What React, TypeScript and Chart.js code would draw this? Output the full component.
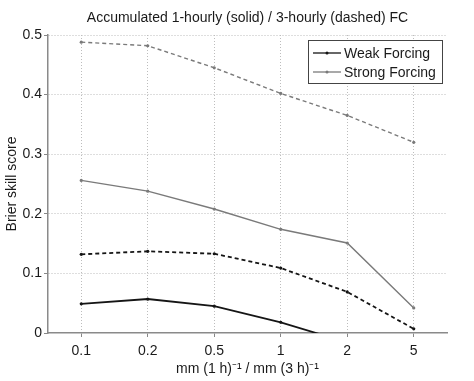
import React, { useEffect, useRef } from "react";
import { Chart, registerables } from "chart.js";

Chart.register(...registerables);

const categories = ["0.1", "0.2", "0.5", "1", "2", "5"];
const weakSolid = [0.049, 0.057, 0.045, 0.018, -0.016, -0.07];
const weakDashed = [0.132, 0.137, 0.133, 0.109, 0.069, 0.007];
const strongSolid = [0.256, 0.238, 0.208, 0.174, 0.151, 0.042];
const strongDashed = [0.488, 0.482, 0.445, 0.402, 0.365, 0.32];
const yTicks = [0, 0.1, 0.2, 0.3, 0.4, 0.5];
const legendLabels = ["Weak Forcing", "Strong Forcing"];
const titleText = "Accumulated 1-hourly (solid) / 3-hourly (dashed) FC";
const yTitle = "Brier skill score";
const xTitle = "mm (1 h)⁻¹ / mm (3 h)⁻¹";

const WEAK = "#151515";
const STRONG = "#7a7a7a";
const FONT = "Liberation Sans, Arial, sans-serif";

const textPlugin = {
  id: "textPlugin",
  afterDraw(chart: any) {
    const ctx = chart.ctx;
    const area = chart.chartArea;
    ctx.save();
    ctx.fillStyle = "#1a1a1a";
    ctx.font = `14px ${FONT}`;
    ctx.textAlign = "center";
    ctx.textBaseline = "middle";
    ctx.fillText(titleText, (area.left + area.right) / 2, 18);
    ctx.fillText(xTitle, (area.left + area.right) / 2, 369);
    ctx.save();
    ctx.translate(12, (area.top + area.bottom) / 2);
    ctx.rotate(-Math.PI / 2);
    ctx.fillText(yTitle, 0, 0);
    ctx.restore();

    // legend box
    const bx = 308, by = 40, bw = 134, bh = 43;
    ctx.fillStyle = "#ffffff";
    ctx.fillRect(bx, by, bw, bh);
    ctx.strokeStyle = "#444";
    ctx.lineWidth = 1;
    ctx.strokeRect(bx + 0.5, by + 0.5, bw, bh);
    const colors = [WEAK, STRONG];
    const rows = [53, 72];
    legendLabels.forEach((lab, i) => {
      const y = rows[i];
      ctx.strokeStyle = colors[i];
      ctx.lineWidth = 1.3;
      ctx.beginPath();
      ctx.moveTo(313, y);
      ctx.lineTo(341, y);
      ctx.stroke();
      ctx.fillStyle = colors[i];
      ctx.beginPath();
      ctx.arc(327, y, 1.5, 0, Math.PI * 2);
      ctx.fill();
      ctx.fillStyle = "#1a1a1a";
      ctx.textAlign = "left";
      ctx.fillText(lab, 344, y + 1);
    });
    ctx.restore();
  },
};

export default function App() {
  const ref = useRef<HTMLCanvasElement>(null);
  useEffect(() => {
    document.body.style.margin = "0";
    if (!ref.current) return;
    const mk = (label: string, data: number[], color: string, dash: number[], width: number) => ({
      label,
      data,
      borderColor: color,
      backgroundColor: color,
      borderWidth: width,
      borderDash: dash,
      pointRadius: 1.6,
      pointBorderWidth: 0,
      pointBackgroundColor: color,
      tension: 0,
      fill: false,
    });
    const chart = new Chart(ref.current, {
      type: "line",
      data: {
        labels: categories,
        datasets: [
          mk("Strong dashed", strongDashed, STRONG, [4, 3], 1.4),
          mk("Strong solid", strongSolid, STRONG, [], 1.4),
          mk("Weak dashed", weakDashed, WEAK, [4, 3], 1.8),
          mk("Weak solid", weakSolid, WEAK, [], 1.8),
        ],
      },
      options: {
        responsive: false,
        animation: false,
        layout: { padding: { top: 35, right: 27, left: 0, bottom: 0 } },
        plugins: { legend: { display: false }, title: { display: false }, tooltip: { enabled: false } },
        scales: {
          x: {
            type: "category",
            offset: true,
            grid: {
              color: "#bdbdbd",
              lineWidth: 1,
              offset: false,
              drawTicks: true,
              tickLength: 4,
              tickColor: "#888",
              tickBorderDash: [],
            },
            border: { display: true, color: "#8a8a8a", width: 1.5, dash: [1, 2] },
            ticks: { color: "#1a1a1a", font: { family: FONT, size: 14 }, padding: 6 },
            afterFit(s: any) { s.height = 48; },
          },
          y: {
            min: 0,
            max: 0.5,
            afterBuildTicks(s: any) { s.ticks = yTicks.map((v) => ({ value: v })); },
            grid: {
              color: (c: any) => (c.tick && c.tick.value === 0 ? "rgba(0,0,0,0)" : "#bdbdbd"),
              lineWidth: 1,
              drawTicks: true,
              tickLength: 4,
              tickColor: "#888",
              tickBorderDash: [],
            },
            border: { display: true, color: "#8a8a8a", width: 1.5, dash: [1, 2] },
            ticks: {
              color: "#1a1a1a",
              font: { family: FONT, size: 14 },
              padding: 2,
              callback: (v: any) => (v === 0 ? "0" : Number(v).toFixed(1)),
            },
            afterFit(s: any) { s.width = 48; },
          },
        },
      },
      plugins: [textPlugin],
    } as any);
    return () => chart.destroy();
  }, []);
  return (
    <div style={{ width: 474, height: 381 }}>
      <canvas ref={ref} width={474} height={381} />
    </div>
  );
}
